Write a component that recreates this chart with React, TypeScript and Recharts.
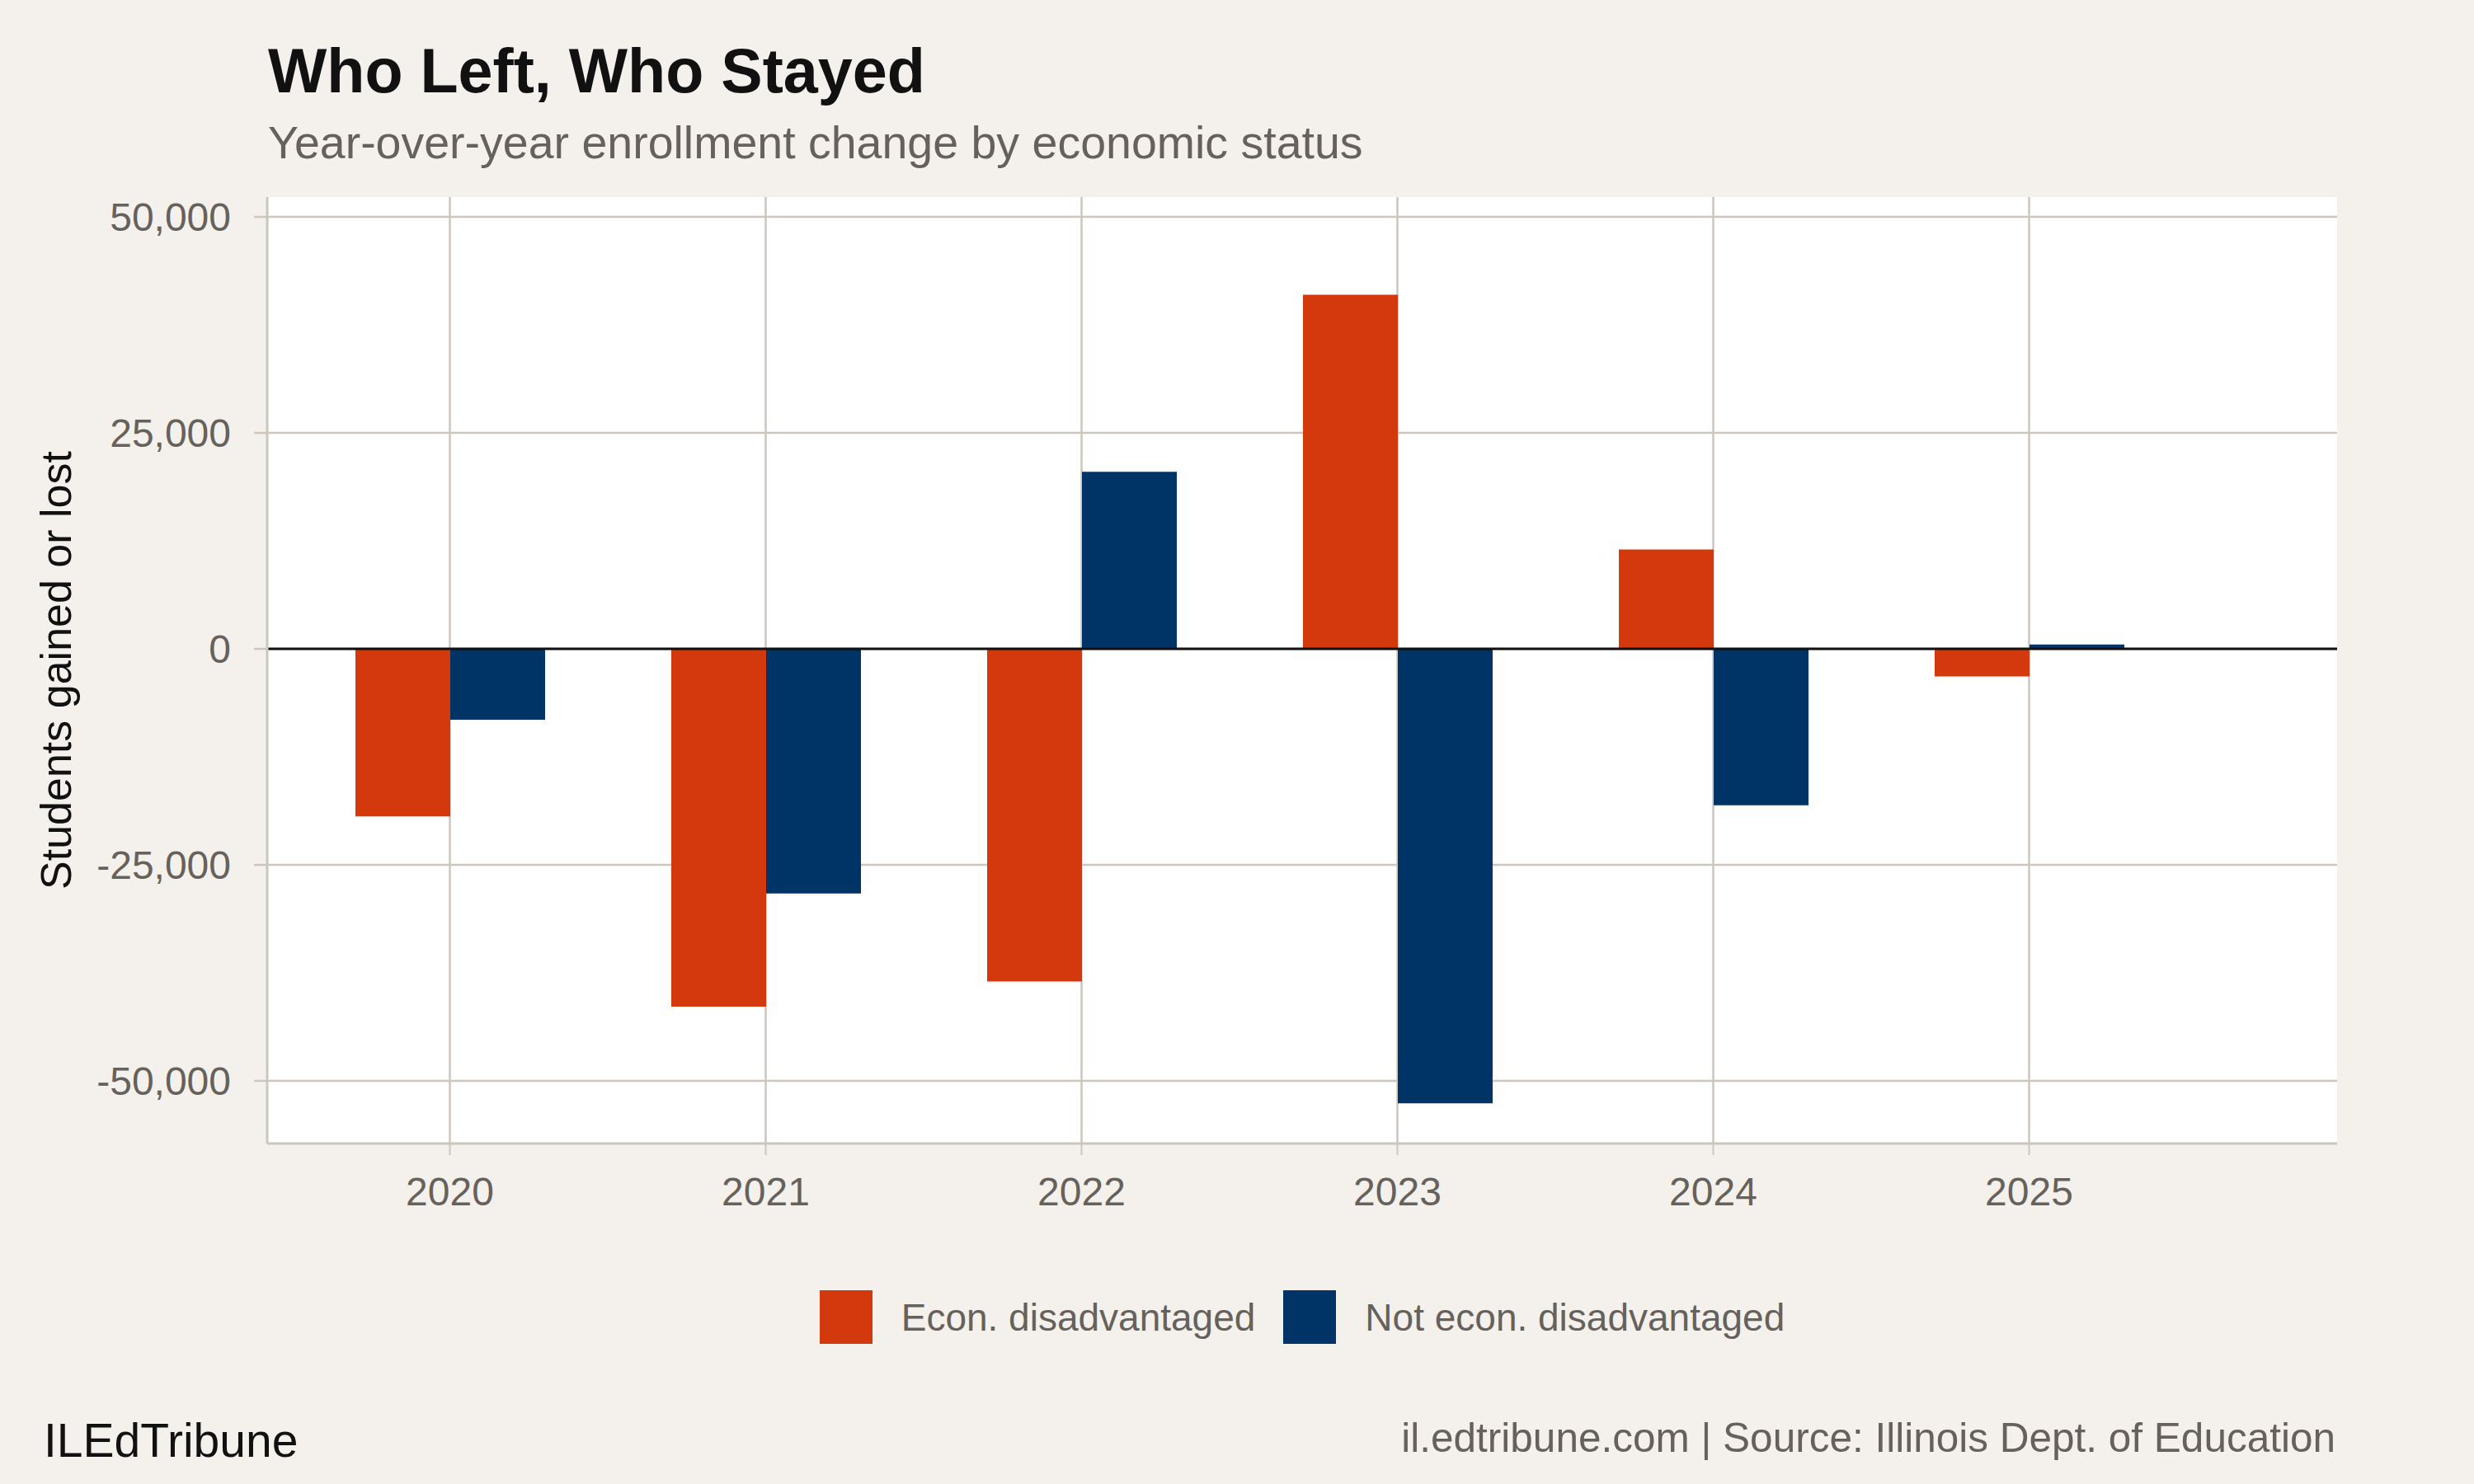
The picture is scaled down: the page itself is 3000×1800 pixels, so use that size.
import React from "react";
import {
  BarChart,
  Bar,
  XAxis,
  YAxis,
  CartesianGrid,
  ReferenceLine,
  Legend,
  Label,
} from "recharts";

const years = ["2020", "2021", "2022", "2023", "2024", "2025"];
const econDisadvantaged = [-19400, -41400, -38500, 41000, 11500, -3200];
const notEconDisadvantaged = [-8200, -28300, 20500, -52600, -18100, 500];
const yTicks = [-50000, -25000, 0, 25000, 50000];

const seriesMeta = [
  { key: "econ", name: "Econ. disadvantaged", color: "#d4380d" },
  { key: "notEcon", name: "Not econ. disadvantaged", color: "#003366" },
];

const data = years.map((year, i) => ({
  year,
  econ: econDisadvantaged[i],
  notEcon: notEconDisadvantaged[i],
}));

const FONT = "'Liberation Sans', Arial, Helvetica, sans-serif";
const BG = "#f4f1ec";
const GRID = "#ccc6bc";
const MUTED = "#66615b";

function LegendContent() {
  return (
    <div
      style={{
        display: "flex",
        justifyContent: "center",
        alignItems: "center",
        height: 65,
        fontFamily: FONT,
        fontSize: 46,
        color: MUTED,
      }}
    >
      {seriesMeta.map((s, i) => (
        <div
          key={s.key}
          style={{ display: "flex", alignItems: "center", marginLeft: i ? 34 : 0 }}
        >
          <div style={{ width: 64, height: 65, background: s.color }} />
          <span style={{ marginLeft: 35, whiteSpace: "nowrap" }}>{s.name}</span>
        </div>
      ))}
    </div>
  );
}

export default function App() {
  return (
    <div
      style={{
        position: "absolute",
        top: 0,
        left: 0,
        width: 3000,
        height: 1800,
        background: BG,
        fontFamily: FONT,
      }}
    >
      <BarChart
        width={3000}
        height={1800}
        data={data}
        margin={{ top: 239, right: 166, bottom: 293, left: 0 }}
        barGap={0}
        barSize={115}
      >
        {/* syncWithTicks: lines only at ticks, no panel border */}
        <CartesianGrid fill="#ffffff" stroke={GRID} strokeWidth={2.5} syncWithTicks />
        <XAxis
          dataKey="year"
          height={120}
          padding={{ left: 30, right: 182 }}
          axisLine={{ stroke: GRID, strokeWidth: 3 }}
          tickLine={{ stroke: GRID, strokeWidth: 2 }}
          tickSize={14}
          tickMargin={27}
          tick={{ fill: MUTED, fontSize: 48, fontFamily: FONT }}
        />
        <YAxis
          width={324}
          domain={[-57250, 52300]}
          ticks={yTicks}
          allowDataOverflow
          axisLine={{ stroke: GRID, strokeWidth: 3 }}
          tickLine={{ stroke: GRID, strokeWidth: 2.5 }}
          tickSize={16}
          tickMargin={28}
          tick={{ fill: MUTED, fontSize: 48, fontFamily: FONT }}
          tickFormatter={(v: number) => v.toLocaleString("en-US")}
        >
          <Label
            value="Students gained or lost"
            angle={-90}
            position="insideLeft"
            offset={68}
            textAnchor="middle"
            style={{ fill: "#111111", fontSize: 52, fontFamily: FONT }}
          />
        </YAxis>
        <Legend
          verticalAlign="middle"
          align="center"
          content={<LegendContent />}
          wrapperStyle={{ top: 1565, left: 324, width: 2510 }}
        />
        {seriesMeta.map((s) => (
          <Bar
            key={s.key}
            dataKey={s.key}
            name={s.name}
            fill={s.color}
            isAnimationActive={false}
          />
        ))}
        <ReferenceLine y={0} stroke="#111111" strokeWidth={3} />
      </BarChart>
      <svg
        width={3000}
        height={1800}
        style={{ position: "absolute", top: 0, left: 0, pointerEvents: "none" }}
      >
        <text x={325} y={112} fontFamily={FONT} fontSize={75.5} fontWeight="bold" fill="#111111">
          Who Left, Who Stayed
        </text>
        <text x={325} y={192} fontFamily={FONT} fontSize={55.5} fill={MUTED}>
          Year-over-year enrollment change by economic status
        </text>
        <text x={53} y={1767} fontFamily={FONT} fontSize={57} fill="#111111">
          ILEdTribune
        </text>
        <text x={2832} y={1761} fontFamily={FONT} fontSize={49.5} fill={MUTED} textAnchor="end">
          il.edtribune.com | Source: Illinois Dept. of Education
        </text>
      </svg>
    </div>
  );
}
